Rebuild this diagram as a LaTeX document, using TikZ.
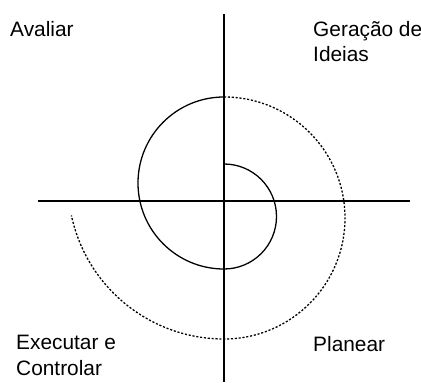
\documentclass[tikz,border=0pt]{standalone}
\usepackage{fontspec}
\setmainfont{Liberation Sans}
\usetikzlibrary{positioning}

\begin{document}
\begin{tikzpicture}[scale=0.03,
  axis/.style={line width=1.6pt},
  spiral/.style={line width=1.1pt},
  spiral dotted/.style={line width=1.1pt, dash pattern=on 1.8pt off 1.5pt},
  quadlabel/.style={anchor=base west, inner sep=0pt, align=left,
    font=\fontsize{17.8}{21.7}\selectfont}]

% --- bounding box, picture is 421 x 382 ---
\useasboundingbox (0,0) rectangle (421,382);

% --- axes ---
\draw[axis] (224,368) -- (224,0);
\draw[axis] (38,181) -- (410,181);

% --- spiral, half circles with growing radius ---
\draw[spiral] (224,218) arc[start angle=90, end angle=-90, radius=52.5]
                        arc[start angle=-90, end angle=-270, radius=86];
% outer turn dotted
\draw[spiral dotted] (224,285) arc[start angle=90, end angle=-90, radius=121]
                               arc[start angle=-90, end angle=-168, radius=156];

% --- quadrant labels (base is the last line) ---
\node[quadlabel] (avaliar) at (10,345) {Avaliar};
\node[quadlabel] (geracao) at (313,320) {Geração de\\Ideias};
\node[quadlabel] (executar) at (16,7) {Executar e\\Controlar};
\node[quadlabel] (planear) at (313,31) {Planear};

\end{tikzpicture}
\end{document}
